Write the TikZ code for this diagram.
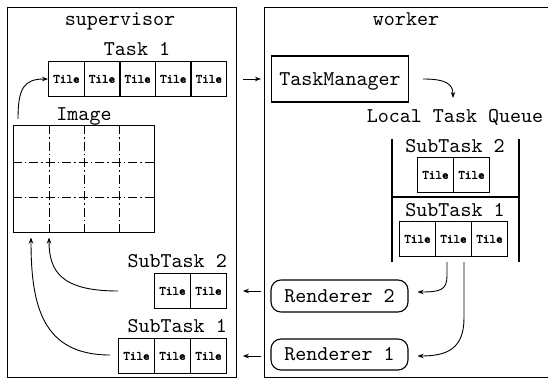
\documentclass[tikz,border=0pt]{standalone}
\usepackage{fontspec}
\usetikzlibrary{arrows.meta}
% typewriter faces: regular for labels, emboldened for tiles
\newfontfamily\labelfont{lmmono10-regular.otf}
\newfontfamily\tilefont{lmmono10-regular.otf}[FakeBold=2.5]
\begin{document}
\begin{tikzpicture}[x=1pt,y=-1pt,
  big/.style={font=\labelfont\fontsize{21}{22}\selectfont, inner sep=0pt},
  panel/.style={draw, line width=0.9pt},
  tile/.style={draw, line width=1.1pt, minimum width=35.8pt, minimum height=35pt,
               inner sep=0pt, anchor=west, font=\tilefont\fontsize{12.5}{13}\selectfont},
  proc/.style={draw, line width=1.1pt, inner sep=0pt, text height=12.5pt, text depth=0pt,
               font=\labelfont\fontsize{21}{22}\selectfont},
  grid/.style={line width=0.9pt, dash pattern=on 9pt off 3pt on 1.5pt off 3pt},
  arr/.style={-{Stealth[length=6pt,width=4.5pt]}, line width=0.9pt}
]
\useasboundingbox (0,0) rectangle (548,379);

% the two process panels
\node[panel, minimum width=229pt, minimum height=370pt, inner sep=0pt] (sup) at (121.5,192) {};
\draw[panel] (548,7) -- (264,7) -- (264,377) -- (548,377);
\node[big, anchor=base] (suplbl) at (120,26) {supervisor};
\node[big, anchor=base] (wrklbl) at (406,26) {worker};

% supervisor: task 1
\node[big, anchor=base] (task1lbl) at (137,56) {Task 1};
\foreach \i in {1,...,5}
  \node[tile] (t1-\i) at ({48+35.6*(\i-1)},79) {Tile};

% supervisor: image split into tiles
\node[big, anchor=base] (imglbl) at (84,121) {Image};
\node[draw, line width=1pt, minimum width=141pt, minimum height=106pt, inner sep=0pt] (img) at (83.5,179) {};
\foreach \yy in {162,197}
  \draw[grid] (img.west |- 0,\yy) -- (img.east |- 0,\yy);
\foreach \xx in {49,84,119}
  \draw[grid] (img.north -| \xx,0) -- (img.south -| \xx,0);

% supervisor: subtasks returned
\node[big, anchor=base east] (s2lbl) at (227,267) {SubTask 2};
\foreach \i in {1,2}
  \node[tile] (s2-\i) at ({154+36*(\i-1)},291) {Tile};
\node[big, anchor=base east] (s1lbl) at (227,332) {SubTask 1};
\foreach \i in {1,2,3}
  \node[tile] (s1-\i) at ({118+36*(\i-1)},356) {Tile};

% worker: task manager
\node[proc, minimum width=137pt, minimum height=46pt] (tm) at (340,79) {TaskManager};

% worker: local task queue
\node[big, anchor=base] (qlbl) at (455,123) {Local Task Queue};
\coordinate (qtl) at (392,139);
\coordinate (qtr) at (519,139);
\coordinate (qbl) at (392,262);
\coordinate (qbr) at (519,262);
\draw[line width=1.1pt] (qtl) -- (qbl);
\draw[line width=1.1pt] (qtr) -- (qbr);
\draw[line width=2.4pt] (qtl |- 0,197) -- (qtr |- 0,197);
\node[big, anchor=base] (q2lbl) at (455,153) {SubTask 2};
\foreach \i in {1,2}
  \node[tile] (q2-\i) at ({417+36*(\i-1)},175) {Tile};
\node[big, anchor=base] (q1lbl) at (455,216) {SubTask 1};
\foreach \i in {1,2,3}
  \node[tile] (q1-\i) at ({399+36*(\i-1)},239) {Tile};

% worker: renderers
\node[proc, rounded corners=10pt, minimum width=137pt, minimum height=32pt] (r2) at (339.5,296) {Renderer 2};
\node[proc, rounded corners=10pt, minimum width=137pt, minimum height=31pt] (r1) at (339.5,354.5) {Renderer 1};

% connectors
\coordinate (imgup) at (18,119);
\draw[arr] (imgup) .. controls (18,88) and (24,79) .. (t1-1.west);
\draw[arr, shorten <=16pt, shorten >=10pt] (t1-5.east) -- (tm.west);
\coordinate (tmout) at (423,79);
\coordinate (qin) at (453,98);
\draw[arr] (tmout) .. controls (446,79) and (453,84) .. (qin);
\coordinate (q1out) at (447,262);
\coordinate (q1outb) at (464,262);
\draw[arr, shorten >=9pt] (q1out) -- (447,276) .. controls (447,290) and (440,292) .. (r2.east |- 0,292);
\draw[arr, shorten >=9pt] (q1outb) -- (464,318) .. controls (464,348) and (448,356) .. (r1.east |- 0,356);
\draw[arr, shorten <=9pt, shorten >=16pt] (r2.west |- s2-2.east) -- (s2-2.east);
\draw[arr, shorten <=9pt, shorten >=16pt] (r1.west |- s1-3.east) -- (s1-3.east);
\coordinate (s2back) at (118,291);
\coordinate (s1back) at (110,355);
\draw[arr] (s2back) .. controls (62,291) and (49,272) .. ([yshift=-5pt]img.south -| 49,0);
\draw[arr] (s1back) .. controls (42,355) and (31,305) .. ([yshift=-5pt]img.south -| 31,0);
\end{tikzpicture}
\end{document}
